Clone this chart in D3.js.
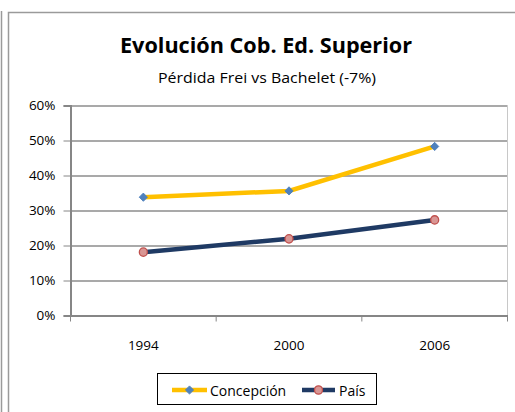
<!DOCTYPE html>
<html>
<head>
<meta charset="utf-8">
<script src="https://cdn.jsdelivr.net/npm/d3@7"></script>
<style>
  body { margin: 0; background: #fff; }
  svg { display: block; font-family: "Open Sans", "DejaVu Sans", sans-serif; }
</style>
</head>
<body>
<div id="wrapper"></div>
<script>
// data
const years = ["1994", "2000", "2006"]
const concepcion = [0.338, 0.356, 0.483]
const pais = [0.181, 0.219, 0.273]
const yTicks = [0, 0.1, 0.2, 0.3, 0.4, 0.5, 0.6]

const seriesList = [
  { name: "Concepción", values: concepcion, line: "#FFC000", marker: "diamond" },
  { name: "País", values: pais, line: "#1F3A64", marker: "circle" },
]

const width = 515
const height = 412
const margin = { top: 105.5, right: 7.5, bottom: 96.5, left: 70.5 }
const boundedWidth = width - margin.left - margin.right
const boundedHeight = height - margin.top - margin.bottom

const svg = d3.select("#wrapper").append("svg")
  .attr("width", width)
  .attr("height", height)

// frame lines
svg.append("line")
  .attr("x1", 1.5).attr("x2", 1.5).attr("y1", 11).attr("y2", height)
  .attr("stroke", "#9a9a9a").attr("stroke-width", 1.5)
svg.append("path")
  .attr("d", `M8.5,${height} V12.5 H${width}`)
  .attr("fill", "none").attr("stroke", "#9a9a9a").attr("stroke-width", 1.5)

// titles
svg.append("text")
  .attr("x", 266).attr("y", 53)
  .attr("text-anchor", "middle")
  .attr("font-size", 21).attr("font-weight", "bold")
  .attr("textLength", 292).attr("lengthAdjust", "spacingAndGlyphs")
  .text("Evolución Cob. Ed. Superior")
svg.append("text")
  .attr("x", 267).attr("y", 83)
  .attr("text-anchor", "middle")
  .attr("font-size", 14.5)
  .attr("textLength", 218).attr("lengthAdjust", "spacingAndGlyphs")
  .text("Pérdida Frei vs Bachelet (-7%)")

const bounds = svg.append("g")
  .attr("transform", `translate(${margin.left},${margin.top})`)

// scales
const xScale = d3.scaleBand()
  .domain(years)
  .range([0, boundedWidth])

const yScale = d3.scaleLinear()
  .domain([0, 0.6])
  .range([boundedHeight, 0])

// gridlines
bounds.append("g")
  .selectAll("line")
  .data(yTicks)
  .join("line")
  .attr("x1", 0).attr("x2", boundedWidth)
  .attr("y1", d => Math.round(yScale(d)) + 0.5)
  .attr("y2", d => Math.round(yScale(d)) + 0.5)
  .attr("stroke", "#8c8c8c").attr("stroke-width", 1.3)

// right border of plot
bounds.append("line")
  .attr("x1", boundedWidth).attr("x2", boundedWidth)
  .attr("y1", 0).attr("y2", boundedHeight)
  .attr("stroke", "#c8c8c8")

// y axis
const yAxis = bounds.append("g")
  .call(d3.axisLeft(yScale)
    .tickValues(yTicks)
    .tickFormat(d3.format(".0%"))
    .tickSize(7)
    .tickPadding(8))
yAxis.select(".domain").attr("stroke", "#868686").attr("stroke-width", 2)
yAxis.selectAll(".tick line").attr("stroke", "#868686")
yAxis.selectAll(".tick text")
  .attr("font-size", 13.5).attr("fill", "#000")
  .attr("font-family", "'Open Sans', sans-serif")

// x axis (ticks between categories)
const xAxis = bounds.append("g")
  .attr("transform", `translate(0,${boundedHeight})`)
  .call(d3.axisBottom(xScale).tickSize(0).tickPadding(25))
xAxis.select(".domain").attr("stroke", "#868686").attr("stroke-width", 2)
xAxis.selectAll(".tick text")
  .attr("font-size", 13.5).attr("fill", "#000")
  .attr("font-family", "'Open Sans', sans-serif")
xAxis.selectAll(".sep")
  .data([0, ...years.map(y => xScale(y) + xScale.bandwidth())])
  .join("line")
  .attr("class", "sep")
  .attr("x1", d => d).attr("x2", d => d)
  .attr("y1", 0).attr("y2", 6)
  .attr("stroke", "#868686")

// lines
const lineGen = d3.line()
  .x((d, i) => xScale(years[i]) + xScale.bandwidth() / 2)
  .y(d => yScale(d))

const diamond = d3.symbol().type(d3.symbolSquare).size(34)

function drawMarker(g, kind, x, y) {
  if (kind === "diamond") {
    g.append("path")
      .attr("d", diamond())
      .attr("transform", `translate(${x},${y}) rotate(45)`)
      .attr("fill", "#4F81BD").attr("stroke", "#4A7EBB").attr("stroke-width", 0.8)
  } else {
    g.append("ellipse")
      .attr("cx", x).attr("cy", y).attr("rx", 4).attr("ry", 4.2)
      .attr("fill", "#D99694").attr("stroke", "#C0504D").attr("stroke-width", 1.3)
  }
}

seriesList.forEach(s => {
  bounds.append("path")
    .datum(s.values)
    .attr("d", lineGen)
    .attr("fill", "none")
    .attr("stroke", s.line)
    .attr("stroke-width", 4.5)
  s.values.forEach((v, i) => {
    drawMarker(bounds, s.marker, xScale(years[i]) + xScale.bandwidth() / 2, yScale(v))
  })
})

// legend
const legend = svg.append("g")
legend.append("rect")
  .attr("x", 157.5).attr("y", 373.5)
  .attr("width", 219).attr("height", 31)
  .attr("fill", "#fff").attr("stroke", "#000").attr("stroke-width", 1)

const legendItems = [
  { s: seriesList[0], x0: 172, x1: 207, tx: 210 },
  { s: seriesList[1], x0: 302, x1: 335, tx: 339 },
]
legendItems.forEach(it => {
  legend.append("line")
    .attr("x1", it.x0).attr("x2", it.x1)
    .attr("y1", 390).attr("y2", 390)
    .attr("stroke", it.s.line).attr("stroke-width", 4.5)
  drawMarker(legend, it.s.marker, (it.x0 + it.x1) / 2, 390)
  legend.append("text")
    .attr("x", it.tx).attr("y", 395.5)
    .attr("font-size", 14)
    .text(it.s.name)
})
</script>
</body>
</html>
